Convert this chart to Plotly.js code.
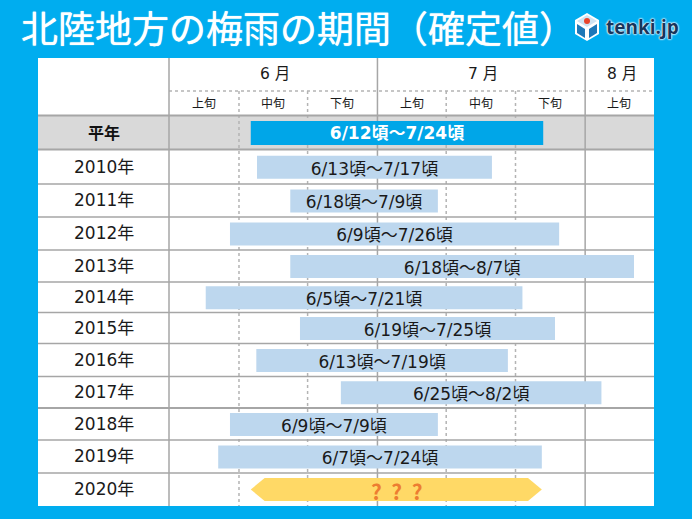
<!DOCTYPE html>
<html><head><meta charset="utf-8">
<script src="https://cdn.plot.ly/plotly-3.0.1.min.js"></script>
<style>html,body{margin:0;padding:0;background:#00ADEF;overflow:hidden}</style>
</head><body><div id="chart" style="width:692px;height:519px"></div>
<script>
// ---- data (x unit: days on the 10-day column scale, 0 = start of June column)
const rowNames   = ['平年','2010年','2011年','2012年','2013年','2014年','2015年','2016年','2017年','2018年','2019年'];
const rowLabels  = ['6/12頃～7/24頃','6/13頃～7/17頃','6/18頃～7/9頃','6/9頃～7/26頃','6/18頃～8/7頃','6/5頃～7/21頃','6/19頃～7/25頃','6/13頃～7/19頃','6/25頃～8/2頃','6/9頃～7/9頃','6/7頃～7/24頃'];
const startVals  = [11.8,12.7,17.5,8.8,17.5,5.3,18.9,12.6,24.8,8.8,7.1];
const endVals    = [54.0,46.6,38.8,56.3,67.1,51.0,55.7,48.9,62.4,38.8,53.8];
const pending    = {name:'2020年', start:11.8, end:53.8, label:'?\u00a0\u00a0?\u00a0\u00a0?'};
const months     = ['6 月','7 月','8 月'];
const monthCols  = [[0,30],[30,60],[60,70]];
const decades    = ['上旬','中旬','下旬','上旬','中旬','下旬','上旬'];

// ---- layout constants
const L=38,R=654,T=58,B=506,X0=169,PX=6.93;
const font='"Noto Sans CJK JP","Noto Sans",sans-serif';
const wide='"DejaVu Sans","Noto Sans CJK JP",sans-serif';
const rowEdges=[115.5,149.5,184,217,250,282,312.5,343.5,376.5,408,440,473,506];
const xLeft=(L-X0)/PX, xRight=(R-X0)/PX;
const centre=i=>(rowEdges[i]+rowEdges[i+1])/2+0.5;
const barCentres=rowNames.map((_,i)=>centre(i));
const GRID='#a6a6a6', DOT='#b4b4b4';

const traces=[];
// normal (blue) bars
traces.push({type:'bar',orientation:'h',
  y:barCentres.slice(1),base:startVals.slice(1),
  x:endVals.slice(1).map((e,i)=>e-startVals[i+1]),
  width:23,marker:{color:'#BDD7EE',line:{width:0}},hoverinfo:'skip'});
// normal-year bar
traces.push({type:'bar',orientation:'h',
  y:[barCentres[0]],base:[startVals[0]],x:[endVals[0]-startVals[0]],
  width:24,marker:{color:'#00A6E8',line:{width:0}},hoverinfo:'skip'});
// bar labels
traces.push({type:'scatter',mode:'text',
  x:rowLabels.slice(1).map((_,i)=>(startVals[i+1]+endVals[i+1])/2),
  y:barCentres.slice(1).map(y=>y+3),
  text:rowLabels.slice(1),textposition:'middle center',
  textfont:{family:wide,size:17,color:'#1a1a1a'},hoverinfo:'skip'});
traces.push({type:'scatter',mode:'text',
  x:[(startVals[0]+endVals[0])/2],y:[barCentres[0]+2],
  text:[rowLabels[0]],textposition:'middle center',
  textfont:{family:wide,size:17,color:'#ffffff',weight:'bold'},hoverinfo:'skip'});
// 2020 arrow
const yA=centre(11)-0.5, hA=11.5, tip=2.0;
traces.push({type:'scatter',mode:'lines',fill:'toself',fillcolor:'#FFD966',line:{width:0,color:'#FFD966'},
  x:[pending.start,pending.start+tip,pending.end-tip,pending.end,pending.end-tip,pending.start+tip,pending.start],
  y:[yA,yA-hA,yA-hA,yA,yA+hA,yA+hA,yA],hoverinfo:'skip'});

const shapes=[];
const hline=(y,c,w,d)=>({type:'line',layer:'below',xref:'x',yref:'y',x0:xLeft,x1:xRight,y0:y,y1:y,line:{color:c,width:w,dash:d||'solid'}});
const vline=(x,y0,y1,c,w,d)=>({type:'line',layer:'below',xref:'x',yref:'y',x0:x,x1:x,y0:y0,y1:y1,line:{color:c,width:w,dash:d||'solid'}});
// grey normal-year band
shapes.push({type:'rect',layer:'below',xref:'x',yref:'y',x0:xLeft,x1:xRight,y0:rowEdges[0],y1:rowEdges[1],fillcolor:'#D9D9D9',line:{width:0}});
// dotted decade lines
[10.1,20,40,50].forEach(x=>shapes.push(vline(x,91,B,DOT,1.5,'dot')));
shapes.push({type:'line',layer:'below',xref:'x',yref:'y',x0:0,x1:xRight,y0:91,y1:91,line:{color:DOT,width:1.5,dash:'dot'}});
// row lines
rowEdges.slice(0,-1).forEach((y,i)=>shapes.push(hline(y,GRID,(i<2||i==9)?2:1.5)));
// solid month lines
[0,30.08,60.05].forEach(x=>shapes.push(vline(x,T,B,GRID,1.5)));

// logo
const lx=p=>(p-L)/(R-L), ly=p=>1-(p-T)/(B-T);
const poly=(pts,fill)=>({type:'path',layer:'above',xref:'paper',yref:'paper',fillcolor:fill,line:{width:0},
  path:'M'+pts.map(p=>lx(p[0]).toFixed(5)+','+ly(p[1]).toFixed(5)).join('L')+'Z'});
shapes.push(poly([[587,13],[599,20],[599,34],[587,41],[575,34],[575,20]],'#ffffff'));
shapes.push(poly([[587,15],[597,21],[587,27],[577,21]],'#CFE3F2'));
shapes.push(poly([[577,24],[585,29],[585,38],[577,33]],'#1E78B8'));
shapes.push(poly([[597,24],[589,29],[589,38],[597,33]],'#1E78B8'));
shapes.push({type:'circle',layer:'above',xref:'paper',yref:'paper',x0:lx(584),x1:lx(590),y0:ly(24),y1:ly(18),fillcolor:'#E8452C',line:{width:0}});

const ann=[];
const add=(x,y,t,size,extra)=>ann.push(Object.assign({xref:'x',yref:'y',x,y,text:t,showarrow:false,xanchor:'center',yanchor:'middle',
  font:{family:wide,size,color:'#1a1a1a'}},extra||{}));
const firstCol=(xLeft+0)/2;
rowNames.forEach((n,i)=>{
  if(i==0) add(firstCol,centre(i)-1.5,n,16,{font:{family:font,size:16,color:'#111',weight:'bold'}});
  else add(firstCol,centre(i)-0.7,n,17);
});
add(firstCol,centre(11)-0.7,pending.name,17);
months.forEach((m,i)=>add((monthCols[i][0]+monthCols[i][1])/2+0.3,74,m,15.5));
decades.forEach((d,i)=>add(i*10+5,102,d,12,{font:{family:font,size:12,color:'#1a1a1a'}}));
add((pending.start+pending.end)/2,yA+1,pending.label,21,{font:{family:font,size:21,color:'#ED7D31',weight:'bold'}});
// logo text
ann.push({xref:'paper',yref:'paper',x:lx(604),y:ly(27),text:'tenki.jp',showarrow:false,xanchor:'left',yanchor:'middle',
  font:{family:'"Open Sans","DejaVu Sans",sans-serif',size:19,color:'#16365c',weight:'bold',shadow:'0 0 2px #fff, 0 0 2px #fff, 0 0 2px #fff'}});

const layout={
  width:692,height:519,showlegend:false,
  paper_bgcolor:'#00ADEF',plot_bgcolor:'#ffffff',
  margin:{l:L,r:692-R,t:T,b:519-B,pad:0},
  barmode:'overlay',
  title:{text:'北陸地方の梅雨の期間（確定値）',x:21/692,xanchor:'left',y:1-30/519,yanchor:'middle',
    font:{family:font,size:37,color:'#ffffff',shadow:'0 0 1px #fff'}},
  xaxis:{range:[xLeft,xRight],showgrid:false,zeroline:false,showticklabels:false,ticks:'',fixedrange:true},
  yaxis:{range:[B,T],showgrid:false,zeroline:false,showticklabels:false,ticks:'',fixedrange:true},
  shapes,annotations:ann};
Plotly.newPlot('chart',traces,layout,{displayModeBar:false,staticPlot:true});
</script></body></html>
